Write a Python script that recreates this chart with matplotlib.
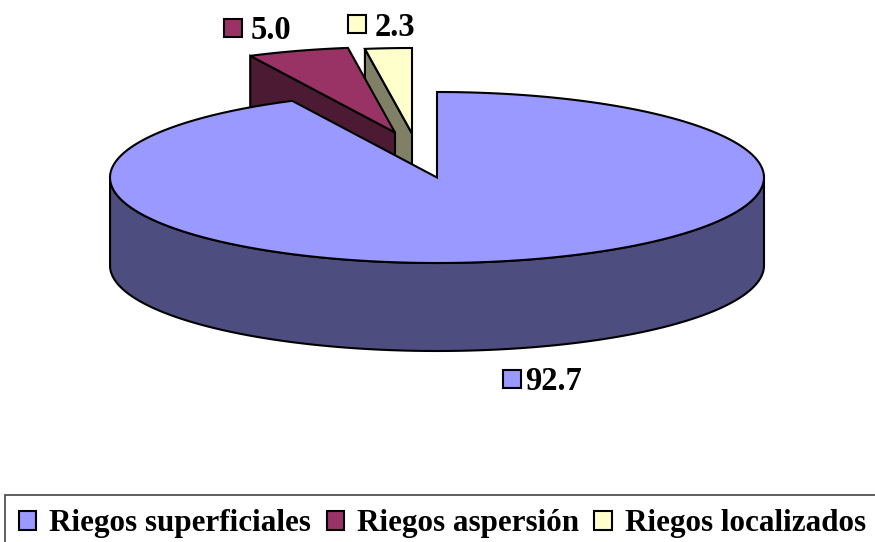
import numpy as np
import matplotlib
matplotlib.use('Agg')
import matplotlib.pyplot as plt
from matplotlib.patches import Patch, Polygon

# Data
labels = ['Riegos superficiales', 'Riegos aspersión', 'Riegos localizados']
values = [92.7, 5.0, 2.3]
value_text = ['92.7', '5.0', '2.3']

# Colours: top face, side face
top_colors = ['#9999ff', '#993366', '#ffffcc']
side_colors = ['#4d4d80', '#4d1a33', '#808066']

# Pie geometry in pixels
cx, cy = 437, 177.5
rx, ry = 327, 85.5
depth = 88
offsets = [(0, 0), (-42, -45), (-25, -44)]
label_pos = [(553, 382), (271, 30.5), (395, 27.5)]
key_pos = [(512, 379), (233, 28), (356.5, 24)]

plt.rcParams['font.family'] = ['Liberation Serif', 'DejaVu Serif']
plt.rcParams['font.weight'] = 'bold'

fig = plt.figure(figsize=(8.75, 5.42), dpi=100)
ax = fig.add_axes([0, 0, 1, 1])
ax.set_xlim(0, 875)
ax.set_ylim(542, 0)
ax.axis('off')

# Slice angles, clockwise from the top
edges = np.concatenate([[0], np.cumsum(values)]) / np.sum(values) * 2 * np.pi


def rim(a, dx, dy):
    return np.column_stack([cx + dx + rx * np.sin(a), cy + dy - ry * np.cos(a)])


def draw_slice(i, z):
    dx, dy = offsets[i]
    a = np.linspace(edges[i], edges[i + 1], 300)
    arc = rim(a, dx, dy)
    apex = np.array([[cx + dx, cy + dy]])
    down = np.array([0, depth])
    lw = 1.5
    # outer wall, only the front part of the rim shows
    front = a[(a > np.pi / 2) & (a < 3 * np.pi / 2)]
    if len(front):
        wall = rim(front, dx, dy)
        ax.add_patch(Polygon(np.vstack([wall, (wall + down)[::-1]]), fc=side_colors[i],
                             ec='black', lw=lw, zorder=z))
    # cut face on the start edge, the end edge faces away
    if i > 0:
        p = arc[0]
        face = np.vstack([p, apex, apex + down, p + down])
        ax.add_patch(Polygon(face, fc=side_colors[i], ec='black', lw=lw, zorder=z))
    # top face
    ax.add_patch(Polygon(np.vstack([apex, arc]), fc=top_colors[i], ec='black', lw=lw,
                         joinstyle='miter', zorder=z + 0.5))


# Back to front so the big slice covers the small ones
draw_slice(2, 1)
draw_slice(1, 2)
draw_slice(0, 3)

# Value labels with colour keys
for i in range(3):
    ax.text(label_pos[i][0], label_pos[i][1], value_text[i], fontsize=23.5, fontweight='bold',
            ha='center', va='center', zorder=5)
    kx, ky = key_pos[i]
    ax.plot(kx, ky, marker='s', ms=13, mfc=top_colors[i], mec='black', mew=1.5, ls='none', zorder=5)

# Legend
handles = [Patch(fc=c, ec='black', lw=1.5) for c in top_colors]
leg = ax.legend(handles, labels, ncol=3, loc='lower left', bbox_to_anchor=(5 / 875, -0.019),
                frameon=True, fancybox=False, edgecolor='#444444',
                framealpha=1, borderaxespad=0, borderpad=0.45, handlelength=0.55, handleheight=0.55,
                handletextpad=0.42, columnspacing=0.5,
                prop={'family': 'Liberation Serif', 'weight': 'bold', 'size': 22.4})
leg.get_frame().set_linewidth(1.2)
leg.set_zorder(6)

fig.savefig('out.png', dpi=100)
